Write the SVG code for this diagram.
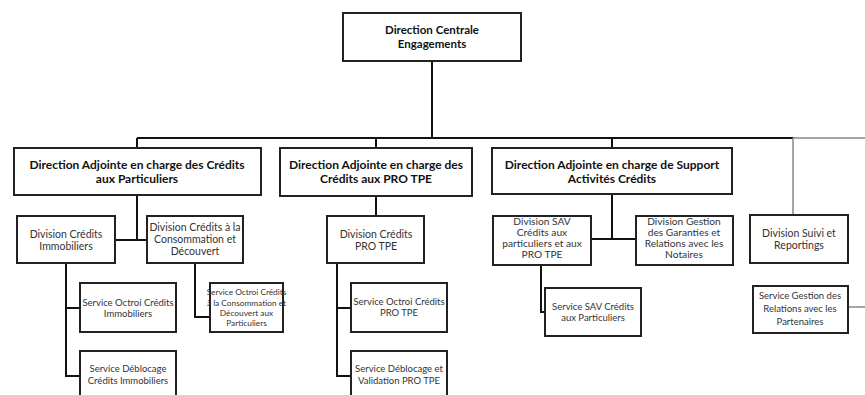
<svg xmlns="http://www.w3.org/2000/svg" width="865" height="395" viewBox="0 0 865 395">
<style>
.box{fill:#fff;stroke:#222;stroke-width:2}
.c{stroke:#111;stroke-width:2;fill:none}
.g{stroke:#888;stroke-width:1.5;fill:none}
text{font-family:Lato,"Open Sans","Liberation Sans",sans-serif;text-anchor:middle;fill:#333}
.t1{font-size:11.5px;font-weight:bold;fill:#111}
.t2{font-size:12px;font-weight:bold;fill:#111}
.t3{font-size:10.5px}
.t3b{font-size:10.2px}
.t4{font-size:9.5px}
.t5{font-size:8.3px}
</style>
<rect width="865" height="395" fill="#fff"/>
<g id="connectors">
<path class="c" d="M432 61V138M137 138H793M137 138V148M376 138V148M612 138V148"/>
<path class="g" d="M793 138H865M793 138V215M848 307H865"/>
<path class="c" d="M137 195V240M115 240H147"/>
<path class="c" d="M66 263V376H80M66 308H80"/>
<path class="c" d="M195 263V317H210"/>
<path class="c" d="M376 196V216"/>
<path class="c" d="M337 263V376H351M337 308H351"/>
<path class="c" d="M612 194V239M591 239H636"/>
<path class="c" d="M541 265V312H545"/>
</g>
<g id="central"><rect class="box" x="343" y="13" width="178" height="48"/><text class="t1" x="432" y="34">Direction Centrale</text><text class="t1" x="432" y="48">Engagements</text></g>
<g id="da1"><rect class="box" x="14" y="148" width="247" height="47"/><text class="t2" x="137" y="169">Direction Adjointe en charge des Crédits</text><text class="t2" x="137" y="183">aux Particuliers</text></g>
<g id="da2"><rect class="box" x="280" y="148" width="192" height="48"/><text class="t2" x="376" y="169">Direction Adjointe en charge des</text><text class="t2" x="376" y="183">Crédits aux PRO TPE</text></g>
<g id="da3"><rect class="box" x="492" y="148" width="240" height="46"/><text class="t2" x="612" y="169">Direction Adjointe en charge de Support</text><text class="t2" x="612" y="183">Activités Crédits</text></g>
<g id="div-immo"><rect class="box" x="17" y="216" width="98" height="47"/><text class="t3" x="66" y="238">Division Crédits</text><text class="t3" x="66" y="250">Immobiliers</text></g>
<g id="div-conso"><rect class="box" x="147" y="216" width="96" height="47"/><text class="t3" x="195" y="231">Division Crédits à la</text><text class="t3" x="195" y="243">Consommation et</text><text class="t3" x="195" y="255">Découvert</text></g>
<g id="div-pro"><rect class="box" x="327" y="216" width="97" height="47"/><text class="t3" x="376" y="238">Division Crédits</text><text class="t3" x="376" y="250">PRO TPE</text></g>
<g id="div-sav"><rect class="box" x="493" y="216" width="98" height="49"/><text class="t3b" x="542" y="225">Division SAV</text><text class="t3b" x="542" y="236">Crédits aux</text><text class="t3b" x="542" y="247">particuliers et aux</text><text class="t3b" x="542" y="258">PRO TPE</text></g>
<g id="div-gar"><rect class="box" x="636" y="216" width="97" height="49"/><text class="t3b" x="684" y="225">Division Gestion</text><text class="t3b" x="684" y="236">des Garanties et</text><text class="t3b" x="684" y="247">Relations avec les</text><text class="t3b" x="684" y="258">Notaires</text></g>
<g id="div-suivi"><rect class="box" x="750" y="215" width="98" height="48"/><text class="t3" x="799" y="237">Division Suivi et</text><text class="t3" x="799" y="249">Reportings</text></g>
<g id="svc-oct-immo"><rect class="box" x="80" y="283" width="96" height="49"/><text class="t4" x="128" y="306">Service Octroi Crédits</text><text class="t4" x="128" y="317">Immobiliers</text></g>
<g id="svc-deb-immo"><rect class="box" x="80" y="351" width="96" height="50"/><text class="t4" x="128" y="372">Service Déblocage</text><text class="t4" x="128" y="384">Crédits Immobiliers</text></g>
<g id="svc-oct-conso"><rect class="box" x="210" y="283" width="73" height="49"/><text class="t5" x="246.5" y="295">Service Octroi Crédits</text><text class="t5" x="246.5" y="305.5">à la Consommation et</text><text class="t5" x="246.5" y="316">Découvert aux</text><text class="t5" x="246.5" y="326">Particuliers</text></g>
<g id="svc-oct-pro"><rect class="box" x="351" y="283" width="96" height="49"/><text class="t4" x="399" y="305">Service Octroi Crédits</text><text class="t4" x="399" y="316">PRO TPE</text></g>
<g id="svc-deb-pro"><rect class="box" x="351" y="351" width="96" height="50"/><text class="t4" x="399" y="372">Service Déblocage et</text><text class="t4" x="399" y="384">Validation PRO TPE</text></g>
<g id="svc-sav"><rect class="box" x="545" y="288" width="96" height="48"/><text class="t4" x="593" y="310">Service SAV Crédits</text><text class="t4" x="593" y="321">aux Particuliers</text></g>
<g id="svc-gest-rel"><rect class="box" x="753" y="286" width="95" height="47"/><text class="t4" x="800" y="299">Service Gestion des</text><text class="t4" x="800" y="312">Relations avec les</text><text class="t4" x="800" y="325">Partenaires</text></g>
</svg>
